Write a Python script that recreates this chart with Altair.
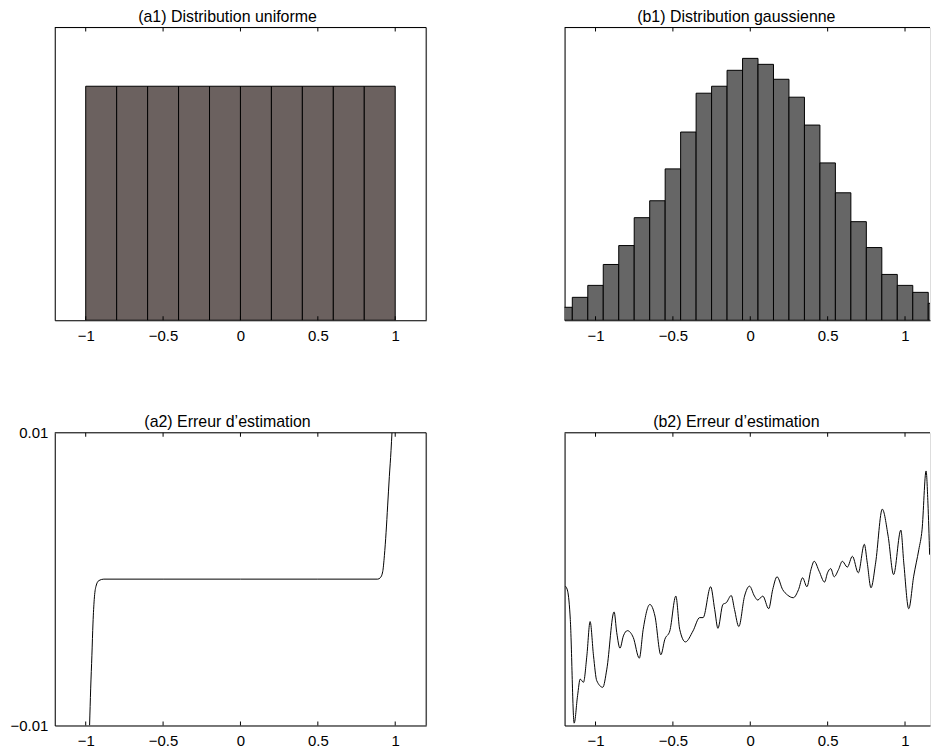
import altair as alt
import pandas as pd

# ---------------- data ----------------
# (a1) uniform histogram: 10 bins on [-1, 1]
uni_left = [-1.0, -0.8, -0.6, -0.4, -0.2, 0.0, 0.2, 0.4, 0.6, 0.8]
uni_right = [-0.8, -0.6, -0.4, -0.2, 0.0, 0.2, 0.4, 0.6, 0.8, 1.0]
uni_count = [235, 235, 235, 235, 235, 235, 235, 235, 235, 235]

# (b1) gaussian histogram: bins of width 0.1 centred on multiples of 0.1
gau_center = [-1.2, -1.1, -1.0, -0.9, -0.8, -0.7, -0.6, -0.5, -0.4, -0.3, -0.2, -0.1,
              0.0, 0.1, 0.2, 0.3, 0.4, 0.5, 0.6, 0.7, 0.8, 0.9, 1.0, 1.1, 1.2]
gau_count = [13, 23, 35, 56, 75, 103, 120, 152, 189, 228, 235, 251,
             263, 257, 242, 224, 196, 158, 128, 99, 73, 46, 35, 28, 17]
gau_width = 0.1

# (a2) estimation error, uniform case
a2_x = [-0.975, -0.968, -0.960, -0.953, -0.945, -0.934, -0.915, -0.883, -0.5, 0.0,
        0.5, 0.887, 0.904, 0.919, 0.930, 0.941, 0.951, 0.962, 0.973, 0.979]
a2_y = [-0.0100, -0.0075, -0.0052, -0.0030, -0.0014, -0.0005, -0.0001, 0.0, 0.0, 0.0,
        0.0, 0.0, 0.0001, 0.0005, 0.0016, 0.0032, 0.0050, 0.0070, 0.0088, 0.0100]

# (b2) estimation error, gaussian case (arbitrary units)
b2_x = [-1.195, -1.180, -1.163, -1.138, -1.116, -1.099, -1.078, -1.056, -1.035, -1.013,
        -0.992, -0.953, -0.927, -0.880, -0.863, -0.842, -0.820, -0.794, -0.756, -0.717,
        -0.692, -0.649, -0.616, -0.578, -0.552, -0.520, -0.481, -0.456, -0.419, -0.370,
        -0.327, -0.305, -0.256, -0.230, -0.209, -0.177, -0.155, -0.123, -0.102, -0.074,
        -0.037, -0.005, 0.027, 0.048, 0.081, 0.119, 0.145, 0.173, 0.209, 0.241,
        0.278, 0.312, 0.338, 0.366, 0.392, 0.413, 0.445, 0.480, 0.499, 0.520,
        0.542, 0.570, 0.595, 0.627, 0.660, 0.698, 0.737, 0.756, 0.780, 0.810,
        0.853, 0.891, 0.926, 0.973, 0.992, 1.024, 1.056, 1.089, 1.110, 1.136,
        1.148, 1.159]
b2_y = [-0.048, -0.082, -0.275, -0.984, -0.796, -0.683, -0.705, -0.524, -0.290, -0.524,
        -0.694, -0.739, -0.615, -0.224, -0.365, -0.472, -0.388, -0.352, -0.399, -0.540,
        -0.343, -0.173, -0.252, -0.517, -0.411, -0.354, -0.116, -0.343, -0.429, -0.354,
        -0.263, -0.263, -0.052, -0.207, -0.336, -0.173, -0.161, -0.112, -0.207, -0.324,
        -0.116, -0.048, -0.116, -0.143, -0.116, -0.202, -0.071, 0.016, -0.071, -0.109,
        -0.127, -0.071, 0.009, -0.052, 0.065, 0.122, 0.054, -0.020, 0.043, 0.072,
        0.016, 0.065, 0.122, 0.082, 0.156, 0.043, 0.238, 0.111, -0.059, 0.111,
        0.478, 0.293, 0.031, 0.335, 0.111, -0.202, 0.020, 0.201, 0.337, 0.739,
        0.519, 0.167]

x_ticks = [-1, -0.5, 0, 0.5, 1]

titles = ["(a1) Distribution uniforme", "(b1) Distribution gaussienne",
          "(a2) Erreur d\u2019estimation", "(b2) Erreur d\u2019estimation"]

# ---------------- layout ----------------
FONT = "Liberation Sans"
W_L, W_R, H = 373, 367, 294
X_LEFT = [-1.2, 1.2]
X_RIGHT = [-1.2, 1.2 - (W_L - W_R) * 2.4 / W_L]

uni_df = pd.DataFrame({"x": uni_left, "x2": uni_right, "n": uni_count})
uni_df["n0"] = 0
gau_df = pd.DataFrame({"x": [c - gau_width / 2 for c in gau_center],
                       "x2": [c + gau_width / 2 for c in gau_center],
                       "n": gau_count})
gau_df["n0"] = 0
a2_df = pd.DataFrame({"x": a2_x, "y": a2_y})
b2_df = pd.DataFrame({"x": b2_x, "y": b2_y})
tick_df = pd.DataFrame({"x": x_ticks})
one = pd.DataFrame({"k": [0]})


def xaxis():
    return alt.Axis(values=x_ticks, format="~g", tickSize=0, labelPadding=8,
                    domainColor="black", labelColor="black", labelFontSize=15,
                    labelFont=FONT, labelFlush=False, labelOverlap=False,
                    grid=False, title=None)


def yaxis_blank(ext):
    return alt.Axis(labels=False, ticks=False, grid=False, domainColor="black",
                    title=None, minExtent=ext, maxExtent=ext)


def decorations(xdom, width, right_frame, title, dx):
    xs = alt.Scale(domain=xdom, nice=False, zero=False)
    top_ticks = alt.Chart(tick_df).mark_rule(color="black", strokeWidth=1).encode(
        x=alt.X("x:Q", scale=xs, axis=xaxis()), y=alt.value(0), y2=alt.value(4))
    bot_ticks = alt.Chart(tick_df).mark_rule(color="black", strokeWidth=1).encode(
        x=alt.X("x:Q", scale=xs, axis=xaxis()), y=alt.value(H), y2=alt.value(H - 4))
    top_line = alt.Chart(one).mark_rule(color="black", strokeWidth=1).encode(
        x=alt.value(0), x2=alt.value(width), y=alt.value(0))
    head = alt.Chart(one).mark_text(
        text=title, font=FONT, fontSize=16, color="black", align="center",
        baseline="alphabetic").encode(x=alt.value(width / 2 + dx), y=alt.value(-6))
    layers = [top_ticks, bot_ticks, top_line, head]
    if right_frame:
        layers.append(alt.Chart(one).mark_rule(color="black", strokeWidth=1).encode(
            x=alt.value(width), y=alt.value(0), y2=alt.value(H)))
    return layers


def hist(df, xdom, width, color, ext, right_frame, title, dx):
    xs = alt.Scale(domain=xdom, nice=False, zero=False)
    bars = alt.Chart(df).mark_bar(color=color, stroke="black", strokeWidth=1,
                                  clip=True).encode(
        x=alt.X("x:Q", scale=xs, axis=xaxis()),
        x2="x2:Q",
        y=alt.Y("n:Q", scale=alt.Scale(domain=[0, 294], nice=False),
                axis=yaxis_blank(ext)),
        y2="n0:Q",
    )
    return alt.layer(bars, *decorations(xdom, width, right_frame, title, dx)).properties(
        width=width, height=H)


def curve(df, xdom, ydom, width, yaxis, right_frame, title, dx):
    xs = alt.Scale(domain=xdom, nice=False, zero=False)
    line = alt.Chart(df).mark_line(color="black", strokeWidth=1, clip=True,
                                   interpolate="monotone").encode(
        x=alt.X("x:Q", scale=xs, axis=xaxis()),
        y=alt.Y("y:Q", scale=alt.Scale(domain=ydom, nice=False, zero=False),
                axis=yaxis),
    )
    return alt.layer(line, *decorations(xdom, width, right_frame, title, dx)).properties(
        width=width, height=H)


a1 = hist(uni_df, X_LEFT, W_L, "#6b615f", 54, True, titles[0], -13)
b1 = hist(gau_df, X_RIGHT, W_R, "#666666", 0, False, titles[1], -11)

a2_axis = alt.Axis(values=[-0.01, 0.01], format="~g", tickSize=0, labelPadding=7,
                   domainColor="black", labelColor="black", labelFontSize=15,
                   labelFont=FONT, labelFlush=False, labelOverlap=False, grid=False,
                   title=None, minExtent=54, maxExtent=54)
a2 = curve(a2_df, X_LEFT, [-0.01, 0.01], W_L, a2_axis, True, titles[2], -13)
b2 = curve(b2_df, X_RIGHT, [-1, 1], W_R, yaxis_blank(0), False, titles[3], -11)

chart = alt.hconcat(
    alt.vconcat(a1, a2, spacing=69),
    alt.vconcat(b1, b2, spacing=69),
    spacing=137,
).properties(
    padding={"left": 0, "top": 6, "right": 0, "bottom": 0},
    background="white",
).configure_view(stroke=None).configure(font=FONT)

chart.save("out.html", embed_options={"renderer": "svg", "actions": False})
